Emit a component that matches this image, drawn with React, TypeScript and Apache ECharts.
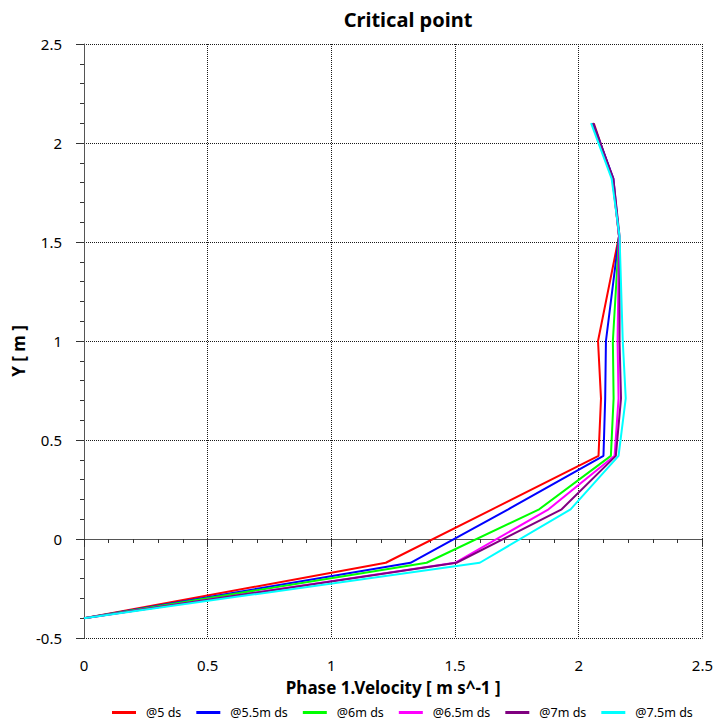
import React, { useEffect, useRef } from "react";
import * as echarts from "echarts";

// Vertical positions (Y, metres) of the sampled points along each profile
const depthLevels = [-0.4, -0.12, 0.15, 0.42, 0.71, 1.0, 1.53, 1.82, 2.1];

// Phase 1 velocity (m/s) at each depth level, one array per downstream station
const vel5 = [0, 1.22, 1.65, 2.08, 2.09, 2.078, 2.163, 2.137, 2.061];
const vel55 = [0, 1.32, 1.715, 2.1, 2.107, 2.11, 2.163, 2.14, 2.058];
const vel6 = [0, 1.385, 1.84, 2.13, 2.141, 2.138, 2.163, 2.137, 2.055];
const vel65 = [0, 1.5, 1.878, 2.145, 2.161, 2.157, 2.163, 2.136, 2.053];
const vel7 = [0, 1.506, 1.931, 2.15, 2.171, 2.165, 2.165, 2.14, 2.056];
const vel75 = [0, 1.6, 1.967, 2.161, 2.19, 2.178, 2.165, 2.133, 2.05];

const seriesNames = ["@5 ds", "@5.5m ds", "@6m ds", "@6.5m ds", "@7m ds", "@7.5m ds"];
const seriesColors = ["#ff0000", "#0000ff", "#00ff00", "#ff00ff", "#800080", "#00ffff"];
const seriesValues = [vel5, vel55, vel6, vel65, vel7, vel75];

const FONT = "Noto Sans";

export default function App() {
  const ref = useRef<HTMLDivElement>(null);

  useEffect(() => {
    if (!ref.current) return;
    const chart = echarts.init(ref.current, null, { renderer: "svg" });

    const series = seriesNames.map((name, i) => ({
      name,
      type: "line",
      data: seriesValues[i].map((v, k) => [v, depthLevels[k]]),
      showSymbol: false,
      symbol: "none",
      lineStyle: { color: seriesColors[i], width: 2 },
      itemStyle: { color: seriesColors[i] },
    }));

    const gridLine = { show: true, lineStyle: { color: "#1a1a1a", type: [1, 1], width: 1 } };

    chart.setOption({
      animation: false,
      backgroundColor: "#ffffff",
      title: {
        text: "Critical point",
        left: 403,
        top: 4,
        textAlign: "center",
        textStyle: { fontFamily: FONT, fontWeight: "bold", fontSize: 20, color: "#000" },
      },
      legend: {
        orient: "horizontal",
        bottom: 6,
        left: 112,
        padding: 0,
        icon: "rect",
        itemWidth: 24,
        itemHeight: 3,
        itemGap: 15,
        textStyle: { fontFamily: FONT, fontSize: 12.5, color: "#000", padding: [0, 0, 0, 5] },
        data: seriesNames,
      },
      grid: { left: 84, right: 8, top: 44, bottom: 87, containLabel: false },
      xAxis: {
        type: "value",
        min: 0,
        max: 2.5,
        interval: 0.5,
        name: "Phase 1.Velocity [ m s^-1 ]",
        nameLocation: "middle",
        nameGap: 33,
        nameTextStyle: { fontFamily: FONT, fontWeight: "bold", fontSize: 17, color: "#000" },
        offset: 8,
        axisLine: { show: true, lineStyle: { color: "#555", width: 1 } },
        axisTick: { show: true, length: 8, lineStyle: { color: "#333" } },
        minorTick: { show: true, splitNumber: 5, length: 4, lineStyle: { color: "#333" } },
        axisLabel: { fontFamily: FONT, fontSize: 15, color: "#000", margin: 11 },
        splitLine: gridLine,
      },
      yAxis: {
        type: "value",
        min: -0.5,
        max: 2.5,
        interval: 0.5,
        offset: 7,
        axisLine: { show: true, lineStyle: { color: "#555", width: 1 } },
        axisTick: { show: true, length: 8, lineStyle: { color: "#333" } },
        minorTick: { show: true, splitNumber: 5, length: 4, lineStyle: { color: "#333" } },
        axisLabel: { fontFamily: FONT, fontSize: 15, color: "#000", margin: 15 },
        splitLine: gridLine,
      },
      graphic: [
        {
          type: "text",
          x: 18,
          y: 351,
          rotation: Math.PI / 2,
          style: {
            text: "Y [ m ]",
            fontFamily: FONT,
            fontWeight: "bold",
            fontSize: 17,
            fill: "#000",
            textAlign: "center",
            textVerticalAlign: "middle",
          },
        },
      ],
      series,
    });

    return () => chart.dispose();
  }, []);

  return (
    <div
      ref={ref}
      style={{ position: "absolute", left: 0, top: 0, width: 716, height: 725 }}
    />
  );
}
